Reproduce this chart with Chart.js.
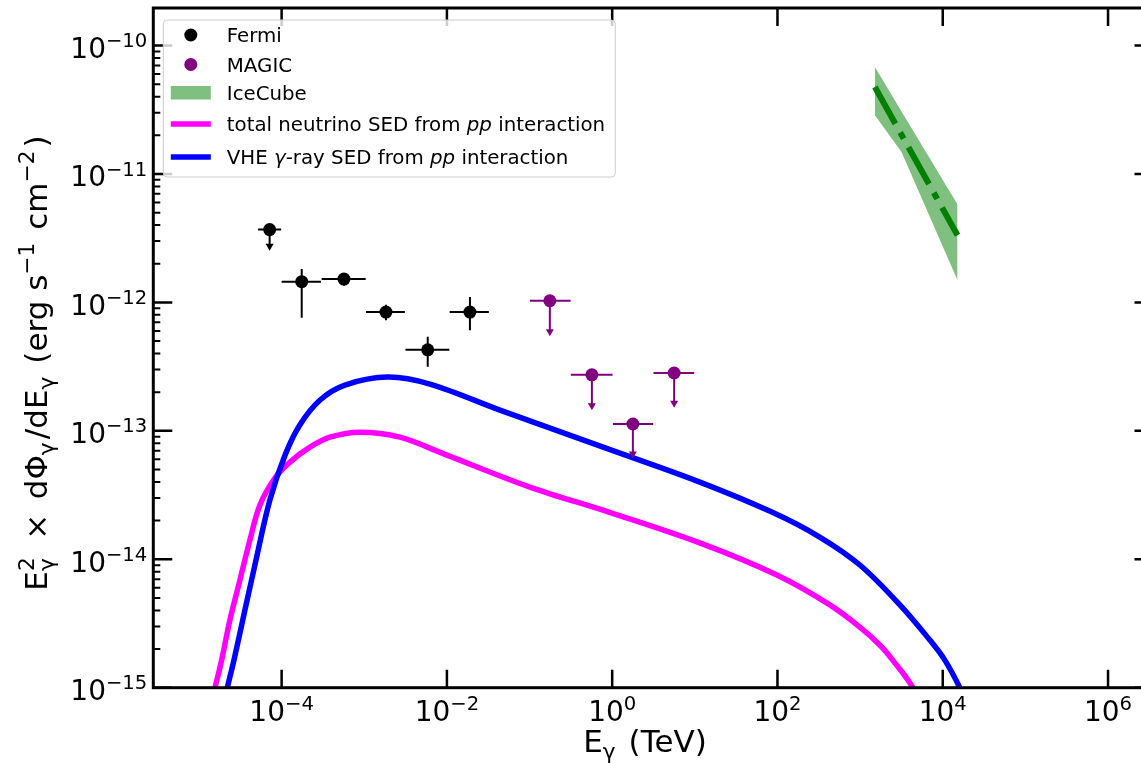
<!DOCTYPE html>
<html>
<head>
<meta charset="utf-8">
<script src="https://cdn.jsdelivr.net/npm/chart.js@4.4.0/dist/chart.umd.min.js"></script>
<style>
  html, body { margin: 0; padding: 0; background: #fff; overflow: hidden; }
  #wrap { width: 1160px; height: 763px; }
</style>
</head>
<body>
<div id="wrap"><canvas id="sed" width="1160" height="763"></canvas></div>
<script>
// Fermi points (TeV, erg s-1 cm-2); first one is an upper limit
const fermiE = [7.16e-5, 1.75e-4, 5.68e-4, 1.83e-3, 5.86e-3, 1.90e-2];
const fermiFlux = [3.69e-12, 1.45e-12, 1.52e-12, 8.41e-13, 4.27e-13, 8.41e-13];
const fermiELow = [5.19e-5, 1.00e-4, 3.05e-4, 1.05e-3, 3.15e-3, 1.08e-2];
const fermiEHigh = [9.86e-5, 2.99e-4, 1.04e-3, 3.10e-3, 1.07e-2, 3.22e-2];
const fermiFluxLow = [2.57e-12, 7.59e-13, 1.35e-12, 7.26e-13, 3.16e-13, 6.08e-13];
const fermiFluxHigh = [null, 1.82e-12, 1.67e-12, 9.57e-13, 5.41e-13, 1.10e-12];
const fermiUL = [true, false, false, false, false, false];

// MAGIC upper limits
const magicE = [0.176, 0.568, 1.78, 5.62];
const magicFlux = [1.03e-12, 2.73e-13, 1.13e-13, 2.82e-13];
const magicELow = [0.101, 0.316, 1.02, 3.16];
const magicEHigh = [0.314, 1.01, 3.13, 9.82];
const magicArrowEnd = [5.56e-13, 1.47e-13, 6.21e-14, 1.54e-13];

// IceCube band and best fit
const icecubeE = [1.51e3, 3.17e3, 1.51e4];
const icecubeUpper = [6.81e-11, 3.06e-11, 5.78e-12];
const icecubeLower = [2.86e-11, 1.48e-11, 1.49e-12];
const icecubeFitE = [1.51e3, 1.51e4];
const icecubeFit = [4.75e-11, 3.33e-12];

// model curves
const gammaE = [2.07e-5, 2.20e-5, 2.65e-5, 3.60e-5, 4.75e-5, 7.21e-5, 1.10e-4, 1.66e-4, 2.90e-4, 5.83e-4,
  1.93e-3, 6.22e-3, 4.38e-2, 0.839, 11.5, 85.5, 324, 993, 3.03e3, 6.98e3, 1.06e4, 1.61e4, 1.75e4];
const gammaSED = [8.5e-16, 1.00e-15, 1.64e-15, 4.03e-15, 9.02e-15, 2.89e-14, 6.47e-14, 1.11e-13, 1.73e-13, 2.27e-13,
  2.62e-13, 2.31e-13, 1.45e-13, 7.33e-14, 3.99e-14, 2.33e-14, 1.49e-14, 9.02e-15, 4.41e-15, 2.35e-15, 1.64e-15, 1.00e-15, 8.5e-16];
const nuE = [1.41e-5, 1.56e-5, 1.88e-5, 2.37e-5, 3.13e-5, 4.13e-5, 5.46e-5, 8.30e-5, 1.26e-4, 2.20e-4, 3.84e-4, 8.85e-4,
  2.70e-3, 1.00e-2, 0.101, 0.99, 11.5, 98.4, 431, 993, 1.73e3, 2.48e3, 4.35e3, 4.72e3];
const nuSED = [8.0e-16, 1.00e-15, 1.64e-15, 3.37e-15, 6.89e-15, 1.41e-14, 2.64e-14, 4.29e-14, 5.71e-14, 7.46e-14, 8.93e-14, 9.77e-14,
  8.93e-14, 6.47e-14, 3.65e-14, 2.29e-14, 1.34e-14, 7.53e-15, 4.41e-15, 2.96e-15, 2.15e-15, 1.64e-15, 1.00e-15, 8.0e-16];

// axis ticks
const xTicks = [1e-4, 1e-2, 1, 1e2, 1e4, 1e6];
const xTickExp = ['−4', '−2', '0', '2', '4', '6'];
const yTicks = [1e-15, 1e-14, 1e-13, 1e-12, 1e-11, 1e-10];
const yTickExp = ['−15', '−14', '−13', '−12', '−11', '−10'];

const FONT = '"DejaVu Sans", sans-serif';
const pts = (xs, ys) => xs.map((x, i) => ({ x: x, y: ys[i] }));

function setFont(ctx, p, size) {
  ctx.font = (p.it ? 'italic ' : '') + (size * (p.s || 1)) + 'px ' + FONT;
}
function partAdvance(ctx, p, size) {
  setFont(ctx, p, size);
  return ctx.measureText(p.t).width + (p.gap || 0) * size;
}
function richWidth(ctx, parts, size) {
  let w = 0, held = 0;
  for (const p of parts) {
    const pw = partAdvance(ctx, p, size);
    if (p.stack) held = pw; else { w += Math.max(pw, held); held = 0; }
  }
  return w;
}
function drawRich(ctx, parts, x, y, size, align) {
  const w = richWidth(ctx, parts, size);
  let cx = align === 'center' ? x - w / 2 : align === 'right' ? x - w : x;
  let held = 0;
  ctx.textAlign = 'left';
  ctx.textBaseline = 'alphabetic';
  for (const p of parts) {
    const pw = partAdvance(ctx, p, size);
    setFont(ctx, p, size);
    ctx.fillText(p.t, cx + (p.pre || 0) * size, y + (p.dy || 0) * size);
    if (p.stack) held = pw; else { cx += Math.max(pw, held); held = 0; }
  }
}
const sup = t => ({ t: t, s: 0.7, dy: -0.39 });

// error bars and upper-limit arrows
function arrowHead(ctx, x, y) {
  ctx.beginPath();
  ctx.moveTo(x - 4, y - 6);
  ctx.lineTo(x + 4, y - 6);
  ctx.lineTo(x, y + 1);
  ctx.closePath();
  ctx.fill();
}
const errorBars = {
  id: 'errorBars',
  afterDatasetsDraw(chart) {
    const ctx = chart.ctx, xs = chart.scales.x, ys = chart.scales.y, a = chart.chartArea;
    ctx.save();
    ctx.beginPath();
    ctx.rect(a.left, a.top, a.right - a.left, a.bottom - a.top);
    ctx.clip();
    ctx.lineWidth = 2;
    const draw = (color, E, F, lo, hi, yLo, yHi, ul) => {
      ctx.strokeStyle = color;
      ctx.fillStyle = color;
      E.forEach((e, i) => {
        const px = xs.getPixelForValue(e), py = ys.getPixelForValue(F[i]);
        ctx.beginPath();
        ctx.moveTo(xs.getPixelForValue(lo[i]), py);
        ctx.lineTo(xs.getPixelForValue(hi[i]), py);
        const bot = ys.getPixelForValue(yLo[i]);
        const top = yHi[i] ? ys.getPixelForValue(yHi[i]) : py;
        ctx.moveTo(px, top);
        ctx.lineTo(px, ul[i] ? bot - 4 : bot);
        ctx.stroke();
        if (ul[i]) arrowHead(ctx, px, bot);
      });
    };
    draw('#000000', fermiE, fermiFlux, fermiELow, fermiEHigh, fermiFluxLow, fermiFluxHigh, fermiUL);
    draw('#800080', magicE, magicFlux, magicELow, magicEHigh, magicArrowEnd, magicE.map(() => null), magicE.map(() => true));
    ctx.restore();
  }
};

// frame, inward ticks, tick labels, axis titles
const axesDeco = {
  id: 'axesDeco',
  afterDatasetsDraw(chart) {
    const ctx = chart.ctx, xs = chart.scales.x, ys = chart.scales.y, a = chart.chartArea;
    ctx.save();
    ctx.strokeStyle = '#000';
    ctx.lineCap = 'butt';
    ctx.lineWidth = 2.5;
    ctx.beginPath();
    xTicks.forEach(v => {
      const px = xs.getPixelForValue(v);
      ctx.moveTo(px, a.bottom); ctx.lineTo(px, a.bottom - 18);
      ctx.moveTo(px, a.top); ctx.lineTo(px, a.top + 18);
    });
    yTicks.forEach(v => {
      const py = ys.getPixelForValue(v);
      ctx.moveTo(a.left, py); ctx.lineTo(a.left + 19, py);
      ctx.moveTo(a.right, py); ctx.lineTo(a.right - 19, py);
    });
    ctx.stroke();
    ctx.lineWidth = 2;
    ctx.beginPath();
    yTicks.forEach(v => {
      for (let m = 2; m <= 9; m++) {
        const val = v * m;
        if (val > ys.max) continue;
        const py = ys.getPixelForValue(val);
        ctx.moveTo(a.left, py); ctx.lineTo(a.left + 7, py);
        ctx.moveTo(a.right, py); ctx.lineTo(a.right - 7, py);
      }
    });
    ctx.stroke();
    ctx.lineWidth = 3;
    ctx.strokeRect(a.left, a.top, a.right - a.left, a.bottom - a.top);

    ctx.fillStyle = '#000';
    xTicks.forEach((v, i) => {
      drawRich(ctx, [{ t: '10' }, sup(xTickExp[i])], xs.getPixelForValue(v), a.bottom + 33.5, 28, 'center');
    });
    yTicks.forEach((v, i) => {
      drawRich(ctx, [{ t: '10' }, sup(yTickExp[i])], a.left - 6, ys.getPixelForValue(v) + 12.5, 28, 'right');
    });
    drawRich(ctx, [{ t: 'E' }, { t: 'γ', s: 0.7, dy: 0.22, gap: 0.1 }, { t: ' (TeV)' }], 645, 752, 31, 'center');
    ctx.translate(47, 363);
    ctx.rotate(-Math.PI / 2);
    const sc = (t, dy) => ({ t: t, s: 0.7, dy: dy, gap: 0.1 });
    drawRich(ctx, [{ t: 'E' }, { t: '2', s: 0.7, dy: -0.42, stack: true, gap: 0.1 }, sc('γ', 0.22),
      { t: ' × ', gap: 0.3, pre: 0.15 }, { t: 'dΦ' }, sc('γ', 0.22),
      { t: '/dE' }, sc('γ', 0.22), { t: ' (erg s' }, sc('−1', -0.42), { t: ' cm' },
      sc('−2', -0.42), { t: ')' }], 0, 0, 31, 'center');
    ctx.restore();
  }
};

// legend box in the upper-left corner
const legendBox = {
  id: 'legendBox',
  afterDraw(chart) {
    const ctx = chart.ctx, a = chart.chartArea;
    const x0 = a.left + 10, y0 = a.top + 12, w = 452, h = 157;
    ctx.save();
    ctx.fillStyle = 'rgba(255,255,255,0.8)';
    ctx.strokeStyle = '#cccccc';
    ctx.lineWidth = 1;
    ctx.beginPath();
    ctx.roundRect(x0, y0, w, h, 4);
    ctx.fill();
    ctx.stroke();
    const hx = x0 + 7.5, hw = 40, tx = x0 + 63.5, fs = 19.8;
    const rows = [y0 + 15, y0 + 44.5, y0 + 73, y0 + 104, y0 + 137];
    ctx.fillStyle = '#000';
    ctx.beginPath(); ctx.arc(hx + hw / 2, rows[0], 6.5, 0, Math.PI * 2); ctx.fill();
    ctx.fillStyle = '#800080';
    ctx.beginPath(); ctx.arc(hx + hw / 2, rows[1], 6.5, 0, Math.PI * 2); ctx.fill();
    ctx.fillStyle = 'rgba(0,128,0,0.5)';
    ctx.fillRect(hx, rows[2] - 7, hw, 13.5);
    ctx.lineWidth = 5.5;
    ctx.strokeStyle = '#ff00ff';
    ctx.beginPath(); ctx.moveTo(hx, rows[3]); ctx.lineTo(hx + hw, rows[3]); ctx.stroke();
    ctx.strokeStyle = '#0000ff';
    ctx.beginPath(); ctx.moveTo(hx, rows[4]); ctx.lineTo(hx + hw, rows[4]); ctx.stroke();
    ctx.fillStyle = '#000';
    const labels = [
      [{ t: 'Fermi' }],
      [{ t: 'MAGIC' }],
      [{ t: 'IceCube' }],
      [{ t: 'total neutrino SED from ' }, { t: 'pp', it: true }, { t: ' interaction' }],
      [{ t: 'VHE ' }, { t: 'γ', it: true }, { t: '-ray SED from ' }, { t: 'pp', it: true }, { t: ' interaction' }]
    ];
    labels.forEach((parts, i) => drawRich(ctx, parts, tx, rows[i] + 7.2, fs, 'left'));
    ctx.restore();
  }
};

const lineSet = (data, color, width, extra) => Object.assign({
  type: 'line', data: data, borderColor: color, borderWidth: width, pointRadius: 0,
  fill: false, tension: 0.35, borderJoinStyle: 'round'
}, extra || {});

new Chart(document.getElementById('sed'), {
  type: 'scatter',
  data: {
    datasets: [
      { label: 'Fermi', data: pts(fermiE, fermiFlux), backgroundColor: '#000', borderWidth: 0, pointRadius: 6.5 },
      { label: 'MAGIC', data: pts(magicE, magicFlux), backgroundColor: '#800080', borderWidth: 0, pointRadius: 6.5 },
      lineSet(pts(icecubeFitE, icecubeFit), '#008000', 6, { borderDash: [42, 10, 7, 10], tension: 0 }),
      lineSet(pts(icecubeE, icecubeUpper), 'rgba(0,0,0,0)', 0, { tension: 0 }),
      lineSet(pts(icecubeE, icecubeLower), 'rgba(0,0,0,0)', 0, { tension: 0, fill: '-1', backgroundColor: 'rgba(0,128,0,0.5)' }),
      lineSet(pts(gammaE, gammaSED), '#0000ff', 5.5),
      lineSet(pts(nuE, nuSED), '#ff00ff', 5.5)
    ]
  },
  options: {
    responsive: false,
    animation: false,
    layout: { padding: { left: 0, top: 8, right: 6, bottom: 0 } },
    plugins: { legend: { display: false }, tooltip: { enabled: false } },
    scales: {
      x: {
        type: 'logarithmic', min: 2.8e-6, max: 3.55e6,
        ticks: { display: false }, grid: { display: false, drawTicks: false }, border: { display: false },
        afterFit: s => { s.height = 75.3; }
      },
      y: {
        type: 'logarithmic', min: 1e-15, max: 1.96e-10,
        ticks: { display: false }, grid: { display: false, drawTicks: false }, border: { display: false },
        afterFit: s => { s.width = 153.3; }
      }
    }
  },
  plugins: [errorBars, axesDeco, legendBox]
});
</script>
</body>
</html>
